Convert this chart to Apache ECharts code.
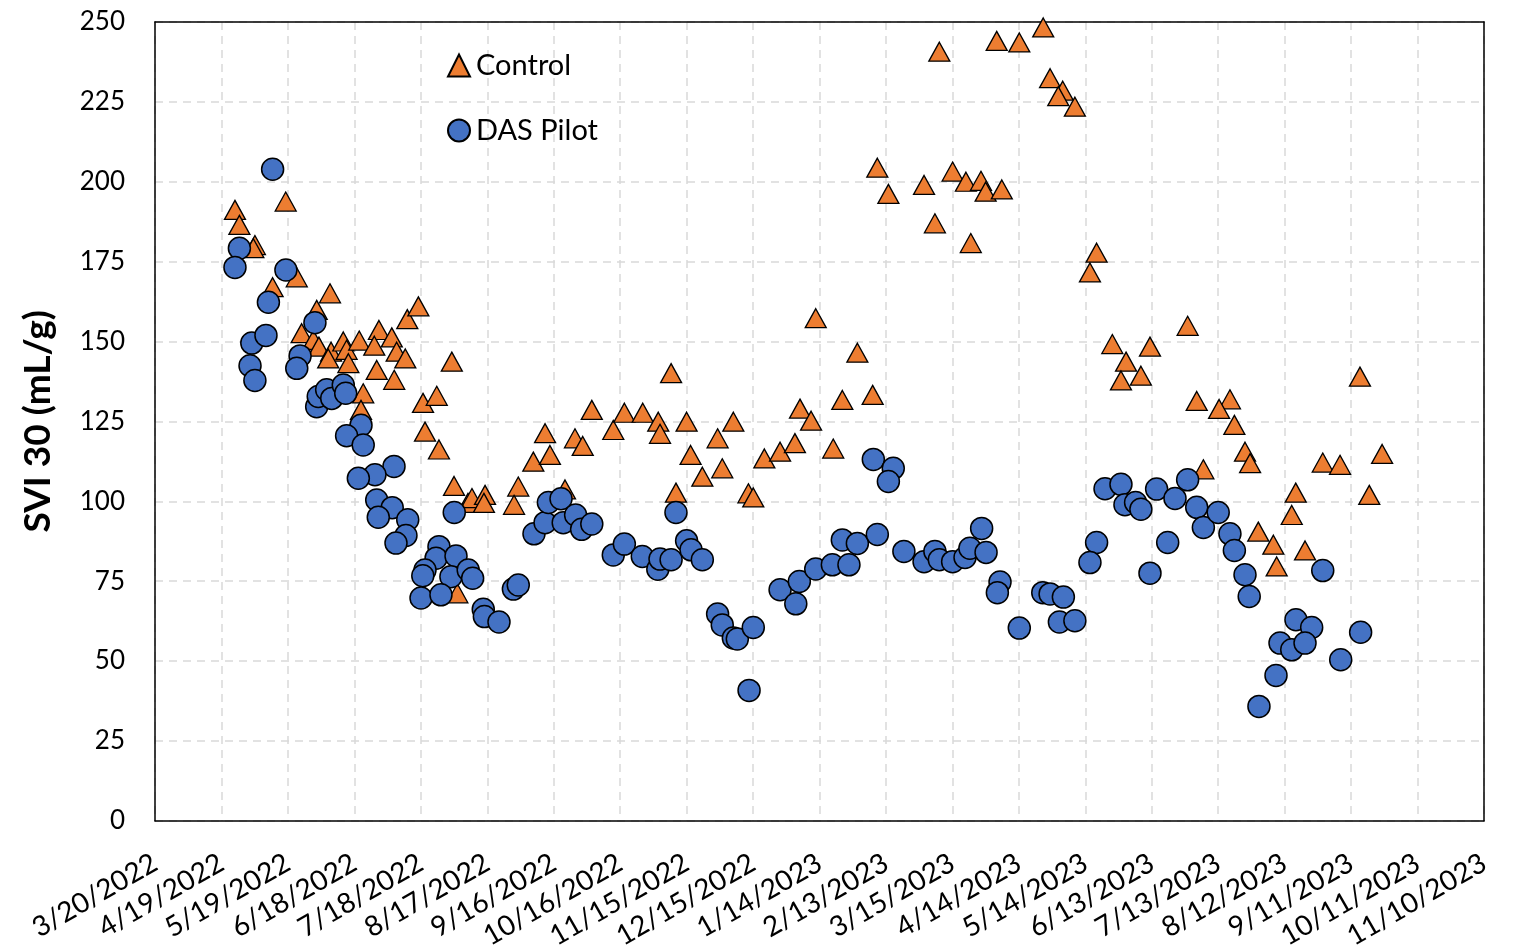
<!DOCTYPE html>
<html>
<head>
<meta charset="utf-8">
<script src="https://cdn.jsdelivr.net/npm/echarts@6/dist/echarts.min.js"></script>
<style>html,body{margin:0;padding:0;background:#fff}#c{width:1514px;height:952px}</style>
</head>
<body>
<div id="c"></div>
<script>
// x values: days since 3/20/2022
const controlDays = [36.1,38.1,45.1,44.4,59.0,64.0,53.1,79.0,73.0,66.2,71.5,74.0,79.5,78.2,85.0,86.5,87.3,92.2,101.1,99.0,106.9,109.1,113.0,100.1,108.0,113.9,118.9,94.0,93.0,121.0,134.0,127.2,121.9,128.2,135.0,141.3,143.1,149.0,148.5,136.5,164.0,162.1,170.8,178.3,176.1,185.1,189.6,193.1,197.2,206.9,211.9,220.2,227.2,228.0,233.0,235.2,240.0,241.8,247.1,254.0,256.1,261.1,267.9,270.1,275.1,282.2,288.9,291.2,298.3,317.1,310.3,324.0,296.2,306.2,354.1,380.0,390.2,401.0,404.1,409.8,407.8,415.3,326.1,331.1,347.2,352.1,360.1,366.1,372.9,375.0,382.3,368.3,425.1,422.1,432.2,449.2,438.4,436.1,445.1,466.2,470.3,485.3,480.4,487.3,492.1,494.4,473.3,498.1,504.9,506.4,544.0,515.0,513.2,527.2,535.0,554.0,548.2,519.2];
const controlSVI = [191.2,186.5,180.2,179.2,193.8,170.1,167.0,165.1,159.9,152.6,150.5,148.4,146.8,144.7,150.0,147.4,143.2,150.3,153.6,148.7,151.3,146.8,144.7,141.1,138.0,157.0,161.0,133.8,128.6,130.8,143.7,133.0,121.8,116.2,104.8,99.5,101.0,102.0,99.5,71.2,104.6,98.9,112.4,114.5,121.3,103.7,119.7,117.3,128.6,122.3,127.7,127.7,124.9,121.1,140.1,102.7,124.9,114.5,107.7,119.7,110.3,124.9,102.5,101.2,113.4,115.5,118.2,129.0,157.3,146.5,131.7,133.3,125.2,116.5,240.7,244.1,243.6,248.3,232.4,228.5,226.8,223.5,204.4,196.2,199.0,187.0,203.2,200.0,200.3,196.9,197.6,180.8,177.8,171.6,149.2,148.4,143.7,137.8,139.3,154.9,131.4,131.9,128.9,123.9,115.5,111.9,110.0,90.5,86.4,79.6,139.0,102.7,95.7,112.1,111.4,114.8,102.0,84.6];
const pilotDays = [53.1,38.1,36.1,59.1,51.2,43.7,50.1,42.9,45.1,72.2,65.5,64.0,73.0,73.7,77.5,79.8,85.0,86.1,93.0,86.5,94.0,107.9,99.3,91.8,100.1,107.1,100.8,114.1,113.3,108.8,135.1,128.2,126.9,135.9,121.9,120.9,133.6,141.4,143.4,120.1,129.1,148.2,148.7,155.3,161.8,164.0,171.1,176.1,177.6,183.3,184.3,189.9,192.6,197.2,206.9,211.9,220.0,227.0,228.0,233.0,235.2,240.0,242.0,247.1,254.0,256.1,261.1,262.9,270.1,268.2,282.2,290.9,289.3,298.3,305.8,313.3,310.3,317.1,326.1,324.3,333.3,331.1,338.1,347.2,352.1,354.1,360.1,365.7,367.9,373.2,375.2,381.5,380.3,390.2,400.8,404.1,410.1,408.3,415.3,425.1,422.1,428.9,436.1,437.9,442.7,445.1,452.2,460.5,466.2,470.3,473.3,480.0,485.3,487.3,492.1,494.0,457.2,449.2,498.4,506.1,507.9,513.2,515.1,522.2,519.2,527.2,535.3,544.3];
const pilotSVI = [203.9,179.2,173.2,172.4,162.3,149.5,151.9,142.4,137.8,155.9,145.5,141.6,129.6,132.8,134.9,132.2,136.4,133.8,123.8,120.5,117.6,110.9,108.3,107.2,100.4,98.0,95.0,94.2,89.3,86.9,96.5,85.8,82.2,82.9,78.5,76.7,76.4,78.5,75.9,69.7,70.7,66.2,63.9,62.2,72.5,73.8,89.8,93.3,99.6,100.8,93.3,95.7,91.2,92.9,83.2,86.6,82.7,78.7,81.9,81.7,96.5,87.6,84.8,81.7,64.7,61.3,57.2,56.9,60.5,40.8,72.3,74.9,67.9,78.8,80.1,80.1,87.9,86.8,89.6,113.1,110.3,106.2,84.3,81.1,84.3,81.7,81.1,82.4,85.3,91.5,84.0,74.7,71.4,60.3,71.4,71.0,70.0,62.2,62.6,87.1,80.8,103.9,105.3,98.9,99.6,97.5,103.8,100.9,106.7,98.1,91.8,96.5,89.8,84.6,77.0,70.2,87.1,77.5,35.8,45.5,55.6,53.5,62.9,60.5,55.6,78.3,50.4,59.0];
const yTicks = {min: 0, max: 250, step: 25};
const xTicks = {min: 0, max: 600, step: 30};
const seriesNames = ['Control', 'DAS Pilot'];

const BASE = Date.UTC(2022, 2, 20);
function dayLabel(v) {
  const d = new Date(BASE + Math.round(v) * 86400000);
  return (d.getUTCMonth() + 1) + '/' + d.getUTCDate() + '/' + d.getUTCFullYear();
}
const zip = (a, b) => a.map((x, i) => [x, b[i]]);

const font = 'Lato, "Open Sans", sans-serif';
const frameAxis = {
  axisLine: {show: true, onZero: false, lineStyle: {color: '#000', width: 1.5}},
  axisTick: {show: false}, axisLabel: {show: false}, splitLine: {show: false}
};
const chart = echarts.init(document.getElementById('c'), null, {renderer: 'canvas'});
chart.setOption({
  animation: false,
  backgroundColor: '#fff',
  grid: {left: 155, right: 30, top: 22, bottom: 131},
  legend: {
    orient: 'vertical', left: 442, top: 46, itemGap: 36, itemWidth: 22, itemHeight: 22,
    textStyle: {fontFamily: font, fontSize: 29, color: '#000', padding: [0, 0, 0, 1]},
    data: [
      {name: seriesNames[0], icon: 'triangle'},
      {name: seriesNames[1], icon: 'circle'}
    ]
  },
  xAxis: [{
    type: 'value', min: xTicks.min, max: xTicks.max, interval: xTicks.step,
    axisLine: {show: true, onZero: false, lineStyle: {color: '#000', width: 1.5}},
    axisTick: {show: false},
    axisLabel: {rotate: 30, fontFamily: font, fontSize: 28, color: '#000', margin: 40, formatter: dayLabel},
    splitLine: {show: true, lineStyle: {color: '#d9d9d9', width: 1.5, type: [8, 6]}}
  }, Object.assign({type: 'value', position: 'top', min: xTicks.min, max: xTicks.max, interval: xTicks.step}, frameAxis)],
  yAxis: [{
    type: 'value', min: yTicks.min, max: yTicks.max, interval: yTicks.step,
    name: 'SVI 30 (mL/g)', nameLocation: 'middle', nameGap: 98, nameRotate: 90,
    nameTextStyle: {fontFamily: font, fontSize: 37, fontWeight: 'bold', color: '#000'},
    axisLine: {show: true, onZero: false, lineStyle: {color: '#000', width: 1.5}},
    axisTick: {show: false},
    axisLabel: {fontFamily: font, fontSize: 26, color: '#000', margin: 30},
    splitLine: {show: true, lineStyle: {color: '#d9d9d9', width: 1.5, type: [8, 6]}}
  }, Object.assign({type: 'value', position: 'right', min: yTicks.min, max: yTicks.max, interval: yTicks.step}, frameAxis)],
  series: [
    {
      name: seriesNames[0], type: 'scatter', symbol: 'triangle', symbolSize: [21, 19],
      itemStyle: {color: '#ED7D31', borderColor: '#000', borderWidth: 1.3, opacity: 1},
      data: zip(controlDays, controlSVI)
    },
    {
      name: seriesNames[1], type: 'scatter', symbol: 'circle', symbolSize: 22,
      itemStyle: {color: '#4472C4', borderColor: '#000', borderWidth: 1.5, opacity: 1},
      data: zip(pilotDays, pilotSVI)
    }
  ]
});
</script>
</body>
</html>
